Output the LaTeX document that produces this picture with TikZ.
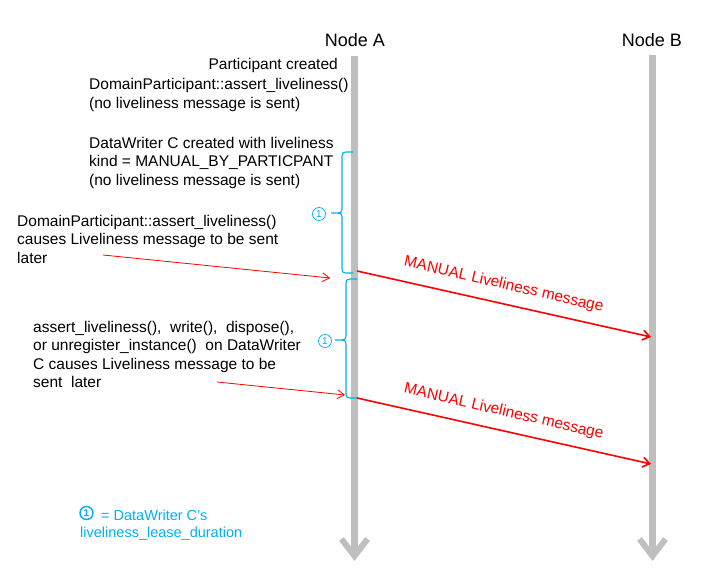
\documentclass[tikz,border=0pt]{standalone}
\usepackage{fontspec}
\setmainfont{Liberation Sans}
\usetikzlibrary{arrows.meta}
\definecolor{lifegray}{RGB}{191,191,191}
\definecolor{skyblue}{RGB}{0,176,240}
\begin{document}
\begin{tikzpicture}[x=1pt,y=-1pt,
 body/.style={font=\fontsize{15.5}{18.5}\selectfont, inner sep=0pt, align=left, anchor=base west},
 head/.style={font=\fontsize{18}{20}\selectfont, inner sep=0pt, anchor=base},
 lifeline/.style={line width=7pt, draw=lifegray},
 msg/.style={draw=red, line width=1.6pt, -{Straight Barb[length=7pt,width=10pt]}},
 pointer/.style={draw=red, line width=0.8pt, -{Straight Barb[length=7pt,width=9pt]}},
 msglabel/.style={text=red, font=\fontsize{15.5}{15.5}\selectfont, rotate=-13, above=9.5pt, inner sep=1pt},
 bracepath/.style={draw=skyblue, line width=1.1pt},
 circnum/.style={circle, draw=skyblue, text=skyblue, line width=0.7pt, inner sep=0pt, minimum size=13pt, font=\fontsize{10}{10}\selectfont}]

\useasboundingbox (0,0) rectangle (705,586);
\fill[white] (0,0) rectangle (705,586);

% headers
\node[head] (hA) at (355,47) {Node A};
\node[head] (hB) at (652,47) {Node B};

% lifelines
\coordinate (Atop) at (354.5,56);
\coordinate (Abot) at (354.5,556);
\coordinate (Btop) at (652.5,55);
\coordinate (Bbot) at (652.5,556);
\draw[lifeline] (Atop) -- (Abot);
\draw[lifeline] (Btop) -- (Bbot);
\draw[lifeline, line width=6pt, miter limit=10] (Abot) ++(-13,-17) -- (Abot) -- ++(13,-17);
\draw[lifeline, line width=6pt, miter limit=10] (Bbot) ++(-13,-17) -- (Bbot) -- ++(13,-17);

% texts (base anchor = baseline of last line)
\node[body, anchor=base east] (t0) at (338,70) {Participant created};
\node[body] (t1) at (89,108.5) {DomainParticipant::assert\_liveliness()\\(no liveliness message is sent)};
\node[body] (t2) at (89,185) {DataWriter C created with liveliness\\kind = MANUAL\_BY\_PARTICPANT\\(no liveliness message is sent)};
\node[body] (t3) at (17,263) {DomainParticipant::assert\_liveliness()\\causes Liveliness message to be sent\\later};
\node[body] (t4) at (33,387.5) {assert\_liveliness(), \ write(), \ dispose(),\\or unregister\_instance() \ on DataWriter\\C causes Liveliness message to be\\sent \ later};

% pointers
\coordinate (p1s) at (103,255);
\coordinate (p1e) at (330,278);
\draw[pointer] (p1s) -- (p1e);
\coordinate (p2s) at (217,382);
\coordinate (p2e) at (345,395);
\draw[pointer] (p2s) -- (p2e);

% messages
\coordinate (m1s) at (357,271);
\coordinate (m1e) at (651,337);
\draw[msg] (m1s) -- node[msglabel, pos=0.485] {MANUAL Liveliness message} (m1e);
\coordinate (m2s) at (357,398);
\coordinate (m2e) at (651,464);
\draw[msg] (m2s) -- node[msglabel, pos=0.485] {MANUAL Liveliness message} (m2e);

% braces
\draw[bracepath] (353,152) -- (346,152) .. controls (343,152) and (342,153) .. (342,156) -- (342,209) .. controls (342,212) and (341,213) .. (338,213) -- (331,213);
\draw[bracepath] (338,213) .. controls (341,213) and (342,214) .. (342,217) -- (342,269) .. controls (342,272) and (343,273) .. (346,273) -- (353,273);
\draw[bracepath] (357,279) -- (350,279) .. controls (347,279) and (346,280) .. (346,283) -- (346,336) .. controls (346,339) and (345,340) .. (342,340) -- (335,340);
\draw[bracepath] (342,340) .. controls (345,340) and (346,341) .. (346,344) -- (346,394) .. controls (346,397) and (347,398) .. (350,398) -- (357,398);

\node[circnum] (c1) at (319,214) {1};
\node[circnum] (c2) at (325,341) {1};

% legend
\node[circnum, line width=1.4pt, font=\bfseries\fontsize{10}{10}\selectfont] (c3) at (86.5,513) {1};
\node[body, text=skyblue, font=\fontsize{14.5}{17}\selectfont] (leg1) at (101,520) {= DataWriter C's};
\node[body, text=skyblue, font=\fontsize{14.5}{17}\selectfont] (leg2) at (80,537) {liveliness\_lease\_duration};
\end{tikzpicture}
\end{document}
